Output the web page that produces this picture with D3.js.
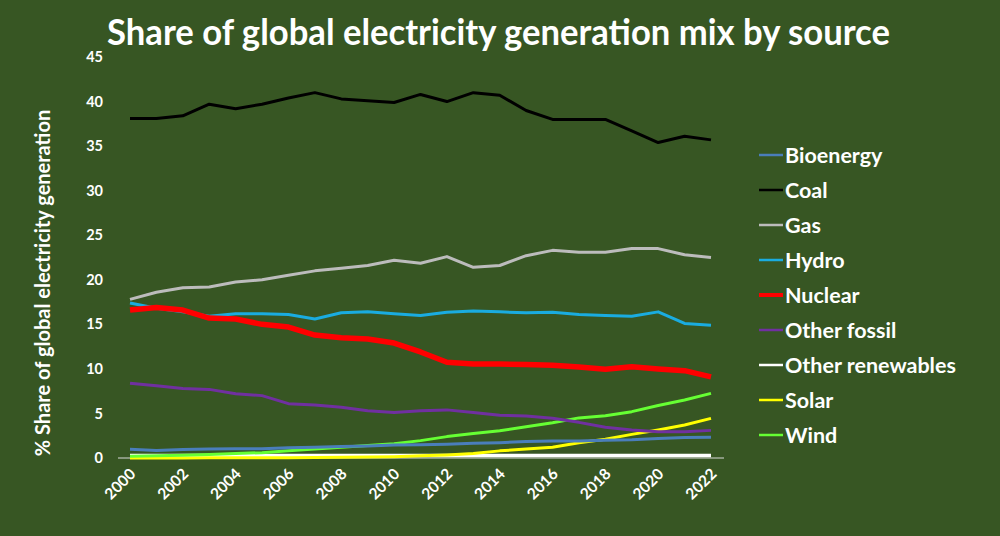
<!DOCTYPE html>
<html><head><meta charset="utf-8">
<script src="https://cdn.jsdelivr.net/npm/d3@7"></script>
<style>html,body{margin:0;padding:0;background:#375623;}svg{display:block;}</style>
</head><body>
<svg id="chart" width="1000" height="536"></svg>
<script>
const years = [2000,2001,2002,2003,2004,2005,2006,2007,2008,2009,2010,2011,2012,2013,2014,2015,2016,2017,2018,2019,2020,2021,2022];
const bioenergy = [0.98,0.85,0.95,1.0,1.05,1.05,1.15,1.2,1.3,1.35,1.45,1.5,1.55,1.65,1.72,1.85,1.9,1.9,2.0,2.05,2.2,2.3,2.33];
const coal = [38.1,38.1,38.4,39.7,39.2,39.7,40.4,41.0,40.3,40.1,39.9,40.8,40.0,41.0,40.7,39.0,38.0,38.0,38.0,36.7,35.4,36.1,35.7];
const gas = [17.8,18.6,19.1,19.2,19.75,20.0,20.5,21.0,21.3,21.6,22.2,21.85,22.6,21.4,21.6,22.7,23.3,23.1,23.1,23.5,23.5,22.8,22.5];
const hydro = [17.4,16.8,16.4,15.9,16.2,16.2,16.1,15.6,16.3,16.4,16.2,16.0,16.35,16.5,16.4,16.3,16.35,16.1,16.0,15.9,16.4,15.1,14.9];
const nuclear = [16.6,16.9,16.6,15.7,15.6,15.0,14.7,13.8,13.5,13.35,12.9,11.9,10.75,10.55,10.55,10.5,10.4,10.2,9.95,10.25,10.0,9.8,9.1];
const otherFossil = [8.4,8.1,7.8,7.7,7.2,7.0,6.1,5.95,5.7,5.3,5.1,5.3,5.4,5.1,4.8,4.7,4.45,4.0,3.45,3.15,2.95,2.95,3.1];
const otherRenewables = [0.28,0.28,0.28,0.28,0.28,0.28,0.28,0.28,0.28,0.28,0.28,0.28,0.28,0.28,0.28,0.28,0.28,0.28,0.28,0.28,0.28,0.28,0.28];
const solar = [0.01,0.01,0.01,0.02,0.02,0.03,0.04,0.05,0.08,0.1,0.15,0.25,0.35,0.5,0.8,1.0,1.2,1.7,2.1,2.65,3.15,3.7,4.45];
const wind = [0.2,0.25,0.3,0.4,0.5,0.6,0.8,1.0,1.2,1.4,1.6,1.95,2.4,2.75,3.05,3.5,3.95,4.5,4.75,5.2,5.9,6.5,7.25];
const seriesNames = ["Bioenergy","Coal","Gas","Hydro","Nuclear","Other fossil","Other renewables","Solar","Wind"];
const seriesColors = ["#4a7ebb","#000000","#bcbcbc","#1aace0","#ff0000","#7030a0","#ffffff","#ffff00","#66ff33"];
const seriesWidths = [3,3,3,3,5.5,3,3.5,3,3];
const seriesValues = [bioenergy,coal,gas,hydro,nuclear,otherFossil,otherRenewables,solar,wind];
const yTicks = [0,5,10,15,20,25,30,35,40,45];
const xTicks = [2000,2002,2004,2006,2008,2010,2012,2014,2016,2018,2020,2022];
const titleText = "Share of global electricity generation mix by source";
const yLabel = "% Share of global electricity generation";

const svg = d3.select("#chart");
const font = "Lato, 'Open Sans', sans-serif";
svg.append("rect").attr("width",1000).attr("height",536).attr("fill","#375623");

const x = d3.scaleLinear().domain([2000,2022]).range([130,711]);
const y = d3.scaleLinear().domain([0,45]).range([458,57]);

// title
svg.append("text").attr("x",107).attr("y",45)
  .attr("font-family",font).attr("font-weight",700).attr("font-size",36)
  .attr("fill","#ffffff").attr("textLength",783).attr("lengthAdjust","spacingAndGlyphs")
  .text(titleText);

// x axis baseline
svg.append("line").attr("x1",118).attr("x2",724).attr("y1",y(0)).attr("y2",y(0))
  .attr("stroke","#d9d9d9").attr("stroke-width",1);

// y axis
const yAxis = d3.axisLeft(y).tickValues(yTicks).tickSize(0).tickPadding(0);
const gy = svg.append("g").attr("transform","translate(103,0)").call(yAxis);
gy.select(".domain").remove();
gy.selectAll("text").attr("fill","#ffffff").attr("font-family",font).attr("font-weight",700).attr("font-size",14.5);

// x axis
const xAxis = d3.axisBottom(x).tickValues(xTicks).tickFormat(d3.format("d")).tickSize(0);
const gx = svg.append("g").attr("transform",`translate(0,${y(0)})`).call(xAxis);
gx.select(".domain").remove();
gx.selectAll("text").attr("fill","#ffffff").attr("font-family",font).attr("font-weight",700).attr("font-size",15.5)
  .attr("text-anchor","end").attr("dy",null).attr("y",0)
  .attr("transform","translate(6,17) rotate(-45)");

// y label
svg.append("text").attr("transform","translate(50,283) rotate(-90)")
  .attr("text-anchor","middle").attr("font-family",font).attr("font-weight",700).attr("font-size",20)
  .attr("fill","#ffffff").text(yLabel);

// lines
const line = d3.line().x((d,i)=>x(years[i])).y(d=>y(d));
const order = [6,7,8,0,5,2,3,4,1];
order.forEach(k=>{
  svg.append("path").datum(seriesValues[k]).attr("d",line)
    .attr("fill","none").attr("stroke",seriesColors[k]).attr("stroke-width",seriesWidths[k])
    .attr("stroke-linejoin","round");
});

// legend
const lg = svg.append("g");
seriesNames.forEach((name,i)=>{
  const yy = 155 + i*35;
  lg.append("line").attr("x1",759).attr("x2",783).attr("y1",yy).attr("y2",yy)
    .attr("stroke",seriesColors[i]).attr("stroke-width",i===4?4:2.5);
  lg.append("text").attr("x",785).attr("y",yy).attr("dy","0.35em")
    .attr("font-family",font).attr("font-weight",700).attr("font-size",21.5)
    .attr("fill","#ffffff").text(name);
});
</script>
</body></html>
